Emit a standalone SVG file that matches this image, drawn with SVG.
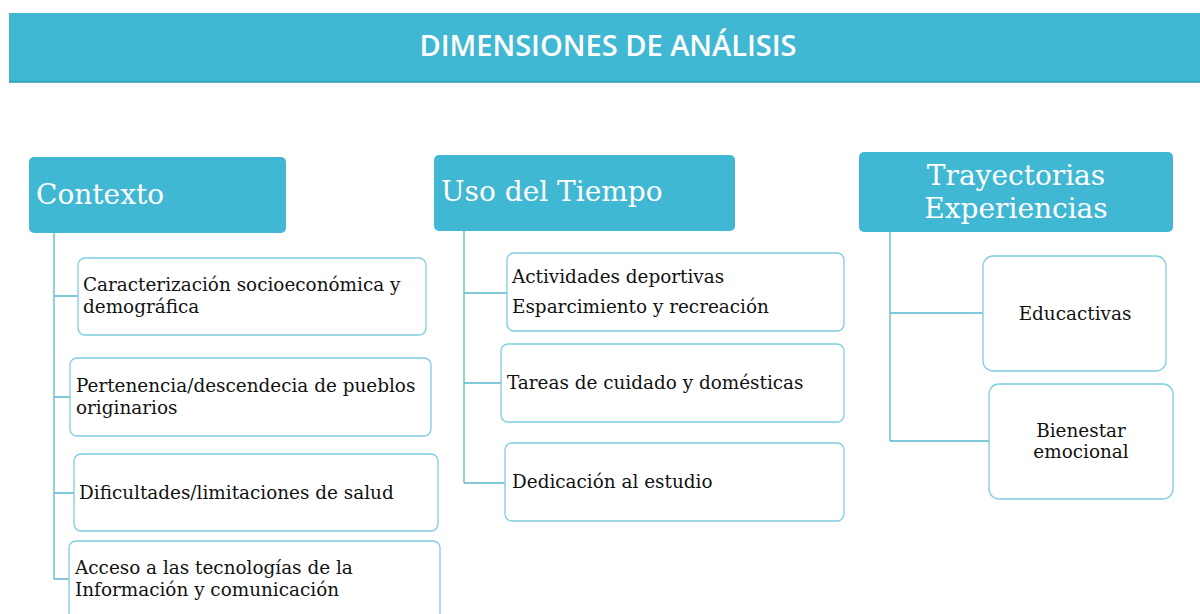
<svg xmlns="http://www.w3.org/2000/svg" width="1200" height="614" viewBox="0 0 1200 614">
<style>
.hdr{fill:#41B8D3;}
.hdrt{font-family:"DejaVu Serif","Liberation Serif",serif;font-size:28px;fill:#ffffff;}
.box{fill:#ffffff;stroke:#7FCDE0;stroke-width:1.3;}
.bt{font-family:"DejaVu Serif","Liberation Serif",serif;font-size:18.4px;fill:#111111;}
.conn{stroke:#5BB6CC;stroke-width:1.3;fill:none;}
</style>
<rect width="1200" height="614" fill="#ffffff"/>
<g id="banner">
<rect x="9" y="13" width="1191" height="69" fill="#41B8D3"/>
<line x1="9" y1="82" x2="1200" y2="82" stroke="#2E9AB2" stroke-width="1.5"/>
<text x="608" y="56" text-anchor="middle" font-family="'Open Sans','Noto Sans',sans-serif" font-weight="600" font-size="29" fill="#ffffff">DIMENSIONES DE ANÁLISIS</text>
</g>
<g id="connectors">
<path class="conn" d="M54 233 V579 M54 296 H78 M54 397 H70 M54 493 H74 M54 579 H69"/>
<path class="conn" d="M464 231 V483 M464 293 H507 M464 383 H501 M464 483 H505"/>
<path class="conn" d="M890 232 V441 M890 313 H983 M890 441 H989"/>
</g>
<g id="contexto">
<rect class="hdr" x="29" y="157" width="257" height="76" rx="5"/>
<text class="hdrt" x="36" y="204">Contexto</text>
</g>
<g id="c1">
<rect class="box" x="78" y="258" width="348" height="77" rx="7"/>
<text class="bt" x="83" y="291">Caracterización socioeconómica y</text>
<text class="bt" x="83" y="313">demográfica</text>
</g>
<g id="c2">
<rect class="box" x="70" y="358" width="361" height="78" rx="7"/>
<text class="bt" x="76" y="392">Pertenencia/descendecia de pueblos</text>
<text class="bt" x="76" y="414">originarios</text>
</g>
<g id="c3">
<rect class="box" x="74" y="454" width="364" height="77" rx="7"/>
<text class="bt" x="79" y="499">Dificultades/limitaciones de salud</text>
</g>
<g id="c4">
<rect class="box" x="69" y="541" width="371" height="80" rx="7"/>
<text class="bt" x="75" y="574">Acceso a las tecnologías de la</text>
<text class="bt" x="75" y="596">Información y comunicación</text>
</g>
<g id="uso">
<rect class="hdr" x="434" y="155" width="301" height="76" rx="5"/>
<text class="hdrt" x="441" y="201">Uso del Tiempo</text>
</g>
<g id="u1">
<rect class="box" x="507" y="253" width="337" height="78" rx="7"/>
<text class="bt" x="512" y="283">Actividades deportivas</text>
<text class="bt" x="512" y="313">Esparcimiento y recreación</text>
</g>
<g id="u2">
<rect class="box" x="501" y="344" width="343" height="78" rx="7"/>
<text class="bt" x="507" y="389">Tareas de cuidado y domésticas</text>
</g>
<g id="u3">
<rect class="box" x="505" y="443" width="339" height="78" rx="7"/>
<text class="bt" x="512" y="488">Dedicación al estudio</text>
</g>
<g id="tray">
<rect class="hdr" x="859" y="152" width="314" height="80" rx="5"/>
<text class="hdrt" x="1016" y="185" text-anchor="middle">Trayectorias</text>
<text class="hdrt" x="1016" y="218" text-anchor="middle">Experiencias</text>
</g>
<g id="t1">
<rect class="box" x="983" y="256" width="183" height="115" rx="10"/>
<text class="bt" x="1075" y="320" text-anchor="middle">Educactivas</text>
</g>
<g id="t2">
<rect class="box" x="989" y="384" width="184" height="115" rx="10"/>
<text class="bt" x="1081" y="437" text-anchor="middle">Bienestar</text>
<text class="bt" x="1081" y="458" text-anchor="middle">emocional</text>
</g>
</svg>
